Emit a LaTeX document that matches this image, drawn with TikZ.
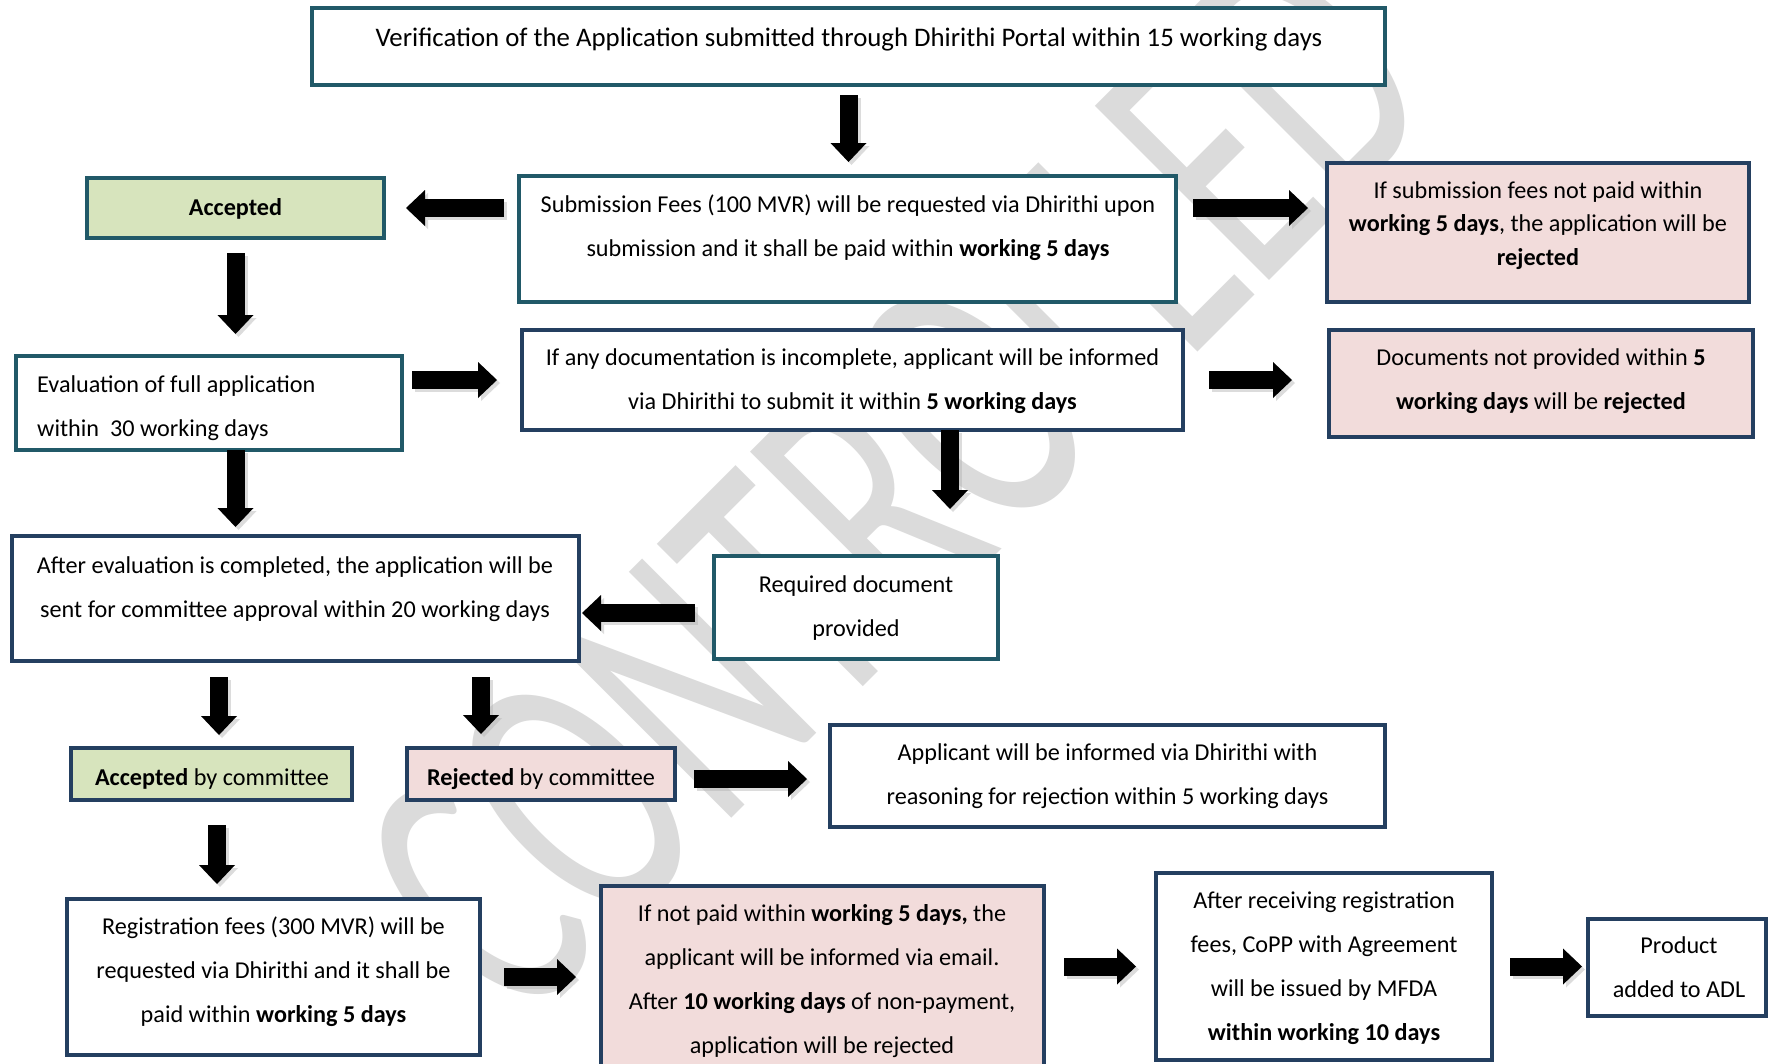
\documentclass[tikz,border=0pt]{standalone}
\usepackage{fontspec}
\setmainfont{Carlito}
\usetikzlibrary{arrows.meta,calc}
\definecolor{tealc}{HTML}{215968}
\definecolor{navyc}{HTML}{243F60}
\definecolor{greenf}{HTML}{D7E4BD}
\definecolor{pinkf}{HTML}{F2DCDB}
\definecolor{wmark}{HTML}{DBDBDB}
\newcommand{\barr}[4]{%
  \draw[ashadow, shorten <=#3, shorten >=#4] (#1) -- (#2);
  \draw[barrow, shorten <=#3, shorten >=#4] (#1) -- (#2);}
\begin{document}
\begin{tikzpicture}[x=1pt,y=-1pt,
  box/.style={draw, line width=4.5pt, fill=white, outer sep=0pt, inner sep=0pt},
  tbox/.style={box, draw=tealc},
  nbox/.style={box, draw=navyc},
  txt/.style={inner sep=0pt, align=center, font=\fontsize{24.2pt}{44pt}\selectfont},
  txtb/.style={inner sep=0pt, align=center, font=\fontsize{24.2pt}{33.5pt}\selectfont},
  txttop/.style={inner sep=0pt, align=center, font=\fontsize{26.8pt}{44pt}\selectfont},
  barrow/.style={draw=black, line width=18pt, -{Triangle[length=19pt,width=36pt,line width=0pt]}},
  ashadow/.style={barrow, draw=black!30, fill=black!30, opacity=.45, transform canvas={shift={(3pt,-3pt)}}},
  wm/.style={anchor=base, rotate=45, text=wmark, inner sep=0pt, font=\fontsize{240pt}{240pt}\selectfont}
]
\useasboundingbox (0,0) rectangle (1771,1063);
\fill[white] (0,0) rectangle (1771,1063);

% watermark
\node[wm] (wm) at (981.5,568.5) {\scalebox{1}[1.6]{CONTROLLED}};

% boxes
\node[tbox, minimum width=1073pt, minimum height=77pt] (top) at (848.5,46.5) {};
\node[tbox, fill=greenf, minimum width=297pt, minimum height=60pt] (acc) at (235.5,208) {};
\node[tbox, minimum width=657pt, minimum height=126pt] (subfee) at (847.5,239) {};
\node[nbox, fill=pinkf, minimum width=422pt, minimum height=139pt] (subrej) at (1538,232.5) {};
\node[tbox, minimum width=386pt, minimum height=94pt] (eval) at (209,403) {};
\node[nbox, minimum width=661pt, minimum height=100pt] (incomplete) at (852.5,380) {};
\node[nbox, fill=pinkf, minimum width=424pt, minimum height=107pt] (docrej) at (1541,383.5) {};
\node[nbox, minimum width=567pt, minimum height=125pt] (aftereval) at (295.5,598.5) {};
\node[tbox, minimum width=284pt, minimum height=103pt] (reqdoc) at (856,607.5) {};
\node[nbox, fill=greenf, minimum width=281pt, minimum height=52pt] (acccom) at (211.5,774) {};
\node[nbox, fill=pinkf, minimum width=268pt, minimum height=52pt] (rejcom) at (541,774) {};
\node[nbox, minimum width=555pt, minimum height=102pt] (applicant) at (1107.5,776) {};
\node[nbox, minimum width=413pt, minimum height=156pt] (regfee) at (273.5,977) {};
\node[nbox, fill=pinkf, minimum width=443pt, minimum height=202pt] (notpaid) at (822.5,987) {};
\node[nbox, minimum width=336pt, minimum height=187pt] (afterrecv) at (1324,966.5) {};
\node[nbox, minimum width=178pt, minimum height=97pt] (product) at (1677,967.5) {};

% texts
\node[txttop] (top-t) at (849,38) {\strut Verification of the Application submitted through Dhirithi Portal within 15 working days};
\node[txt] (acc-t) at (235.5,207) {\strut\textbf{Accepted}};
\node[txt] (subfee-t) at (848,226) {\strut Submission Fees (100 MVR) will be requested via Dhirithi upon\\\strut submission and it shall be paid within \textbf{working 5 days}};
\node[txtb] (subrej-t) at (1538,225) {\strut If submission fees not paid within\\\strut\textbf{working 5 days}, the application will be\\\strut\textbf{rejected}};
\node[txt, align=left, anchor=west] (eval-t) at (37,405.5) {\strut Evaluation of full application\\\strut within~ 30 working days};
\node[txt] (incomplete-t) at (852.5,379) {\strut If any documentation is incomplete, applicant will be informed\\\strut via Dhirithi to submit it within \textbf{5 working days}};
\node[txt] (docrej-t) at (1541,379) {\strut Documents not provided within \textbf{5}\\\strut\textbf{working days} will be \textbf{rejected}};
\node[txt] (aftereval-t) at (295,587) {\strut After evaluation is completed, the application will be\\\strut sent for committee approval within 20 working days};
\node[txt] (reqdoc-t) at (856,605.5) {\strut Required document\\\strut provided};
\node[txt] (acccom-t) at (212,776.5) {\strut\textbf{Accepted} by committee};
\node[txt] (rejcom-t) at (541,776.5) {\strut\textbf{Rejected} by committee};
\node[txt] (applicant-t) at (1107.5,773.5) {\strut Applicant will be informed via Dhirithi with\\\strut reasoning for rejection within 5 working days};
\node[txt] (regfee-t) at (273.5,969.5) {\strut Registration fees (300 MVR) will be\\\strut requested via Dhirithi and it shall be\\\strut paid within \textbf{working 5 days}};
\node[txt] (notpaid-t) at (822,979) {\strut If not paid within \textbf{working 5 days,} the\\\strut applicant will be informed via email.\\\strut After \textbf{10 working days} of non-payment,\\\strut application will be rejected};
\node[txt] (afterrecv-t) at (1324,965.5) {\strut After receiving registration\\\strut fees, CoPP with Agreement\\\strut will be issued by MFDA\\\strut\textbf{within working 10 days}};
\node[txt] (product-t) at (1679,967) {\strut Product\\\strut added to ADL};

% helper coordinates
\coordinate (c7) at ($(incomplete.south)+(97.5,0)$);
\coordinate (c9) at ($(reqdoc.west)+(0,5.5)$);
\coordinate (c10) at ($(acccom.north)+(7.5,0)$);
\coordinate (c11) at ($(rejcom.north)+(-60,0)$);
\coordinate (c12) at ($(rejcom.east)+(0,5)$);
\coordinate (c13) at ($(acccom.south)+(5.5,0)$);

% arrows
\barr{top.south}{top.south |- subfee.north}{10pt}{14pt}
\barr{subfee.west |- acc.east}{acc.east}{15pt}{22pt}
\barr{subfee.east |- acc.east}{subrej.west |- acc.east}{17pt}{19pt}
\barr{acc.south}{acc.south |- eval.north}{15pt}{22pt}
\barr{eval.east |- incomplete.west}{incomplete.west}{10pt}{25pt}
\barr{incomplete.east}{docrej.west |- incomplete.east}{26pt}{37pt}
\barr{c7}{c7 |- reqdoc.north}{0pt}{47pt}
\barr{eval.south -| acc.south}{aftereval.north -| acc.south}{0pt}{9pt}
\barr{c9}{c9 -| aftereval.east}{19pt}{3pt}
\barr{c10 |- aftereval.south}{c10}{16pt}{13pt}
\barr{c11 |- aftereval.south}{c11}{16pt}{14pt}
\barr{c12}{c12 -| applicant.west}{19pt}{23pt}
\barr{c13}{c13 |- regfee.north}{25pt}{15pt}
\barr{regfee.east}{regfee.east -| notpaid.west}{24pt}{25pt}
\barr{notpaid.east |- afterrecv.west}{afterrecv.west}{20pt}{20pt}
\barr{afterrecv.east}{afterrecv.east -| product.west}{18pt}{6pt}
\end{tikzpicture}
\end{document}
